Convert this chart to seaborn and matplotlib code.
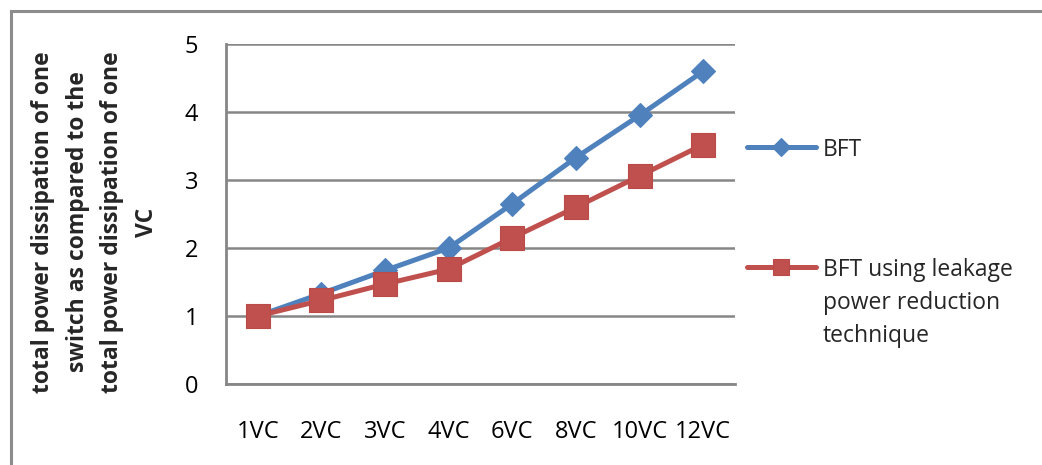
import matplotlib
matplotlib.use("Agg")
import matplotlib.pyplot as plt
import seaborn as sns
from matplotlib.patches import Rectangle

# ---- data ----
categories = ["1VC", "2VC", "3VC", "4VC", "6VC", "8VC", "10VC", "12VC"]
bft = [1.0, 1.33, 1.67, 2.0, 2.65, 3.33, 3.95, 4.6]
bft_leakage = [1.0, 1.23, 1.47, 1.69, 2.15, 2.6, 3.06, 3.52]
series_names = ["BFT", "BFT using leakage\npower reduction\ntechnique"]
yticks = [0, 1, 2, 3, 4, 5]
ylabel = ("total power dissipation of one\nswitch as compared to the\n"
          "total power dissipation of one\nVC")

BLUE = "#4F81BD"
RED = "#C0504D"
GRID = "#868686"

sns.set_style("white")
plt.rcParams["font.family"] = ["Open Sans", "DejaVu Sans"]

W, H = 1042, 465
fig = plt.figure(figsize=(W / 100, H / 100), dpi=100)
ax = fig.add_axes([226 / W, 1 - 384 / H, 509 / W, 340 / H])

sns.lineplot(x=categories, y=bft, ax=ax, color=BLUE, marker="D", markersize=12.5,
             markeredgecolor=BLUE, markeredgewidth=0.8, lw=3.6, label=series_names[0],
             legend=False, sort=False)
sns.lineplot(x=categories, y=bft_leakage, ax=ax, color=RED, marker="s", markersize=17.5,
             markeredgecolor="#B94A47", markeredgewidth=0.8, lw=3.6, label=series_names[1],
             legend=False, sort=False)

ax.set_xlim(-0.5, len(categories) - 0.5)
ax.set_ylim(0, 5)
ax.set_yticks(yticks)
ax.set_xlabel("")
ax.set_ylabel("")
ax.yaxis.grid(True, color=GRID, lw=1.8)
ax.xaxis.grid(False)
ax.set_axisbelow(True)
for s in ["top", "right"]:
    ax.spines[s].set_visible(False)
for s in ["left", "bottom"]:
    ax.spines[s].set_color(GRID)
    ax.spines[s].set_linewidth(2.0)
ax.tick_params(axis="both", length=0, labelsize=17, labelcolor="black")
ax.tick_params(axis="y", pad=20)
ax.tick_params(axis="x", pad=26)

fig.text(95 / W, 1 - 222 / H, ylabel, rotation=90, ha="center", va="center",
         fontsize=16.5, fontweight="bold", linespacing=1.6, multialignment="center")

leg = ax.legend(loc="upper left", bbox_to_anchor=(747 / W, 1 - 138 / H),
                bbox_transform=fig.transFigure, frameon=False, fontsize=16.5,
                handlelength=3.0, handletextpad=0.32, labelspacing=4.2,
                borderpad=0, borderaxespad=0, handleheight=1.0)
for row_col in leg._legend_handle_box.get_children():
    for row in row_col.get_children():
        row.align = "top"
leg.get_texts()[1].set_linespacing(1.5)
leg.legend_handles[0].set_markersize(9)
leg.legend_handles[1].set_markersize(11.5)

fig.add_artist(Rectangle((11 / W, -0.1), 1.2, (H - 11) / H + 0.1,
                         transform=fig.transFigure, fill=False,
                         edgecolor="#8C8C8C", lw=2.2))

fig.savefig("out.png", dpi=100)
